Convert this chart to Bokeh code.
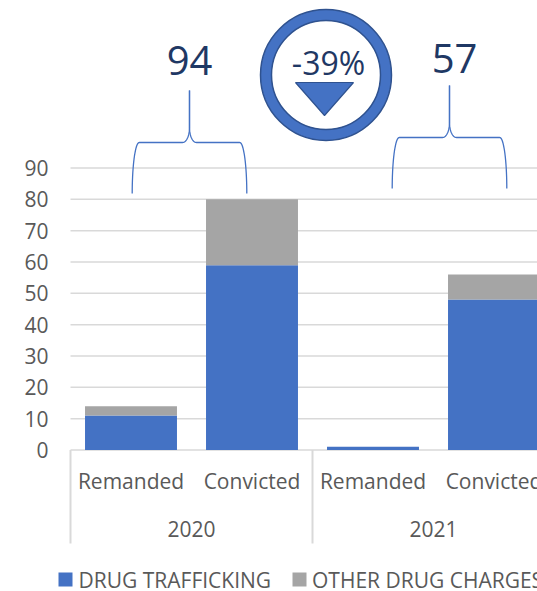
import numpy as np
from bokeh.plotting import figure
from bokeh.models import Range1d, ColumnDataSource
from bokeh.embed import file_html
from bokeh.resources import INLINE
from bokeh.core.properties import value

# ---------------- data ----------------
years = ["2020", "2021"]
stages = ["Remanded", "Convicted", "Remanded", "Convicted"]
category_year = ["2020", "2020", "2021", "2021"]
series_names = ["DRUG TRAFFICKING", "OTHER DRUG CHARGES"]
drug_trafficking = [11, 59, 1, 48]
other_drug_charges = [3, 21, 0, 8]
y_ticks = [0, 10, 20, 30, 40, 50, 60, 70, 80, 90]
y_tick_labels = [str(t) for t in y_ticks]

# ---------------- styles ----------------
BLUE = "#4472C4"
GRAY = "#A5A5A5"
TXT = "#595959"
NAVY = "#1F3864"
GRID = "#D9D9D9"
EDGE = "#2F528F"
FONT = value("Open Sans")

# picture-pixel -> data helpers (for annotation placement only)
X0, SLOT, Y0, PXU = 70.0, 121.0, 449.5, 282.0 / 90.0
def dx(px):
    return (px - X0) / SLOT
def dy(py):
    return (Y0 - py) / PXU

W, H = 537, 591
p = figure(width=W, height=H, output_backend="svg", toolbar_location=None,
           x_range=Range1d(dx(0), dx(W)), y_range=Range1d(dy(H), dy(0)),
           x_axis_location=None, y_axis_location=None, min_border=0,
           min_border_left=0, min_border_right=0, min_border_top=0, min_border_bottom=0)
p.outline_line_color = None
p.background_fill_color = "white"
p.border_fill_color = "white"
p.xgrid.visible = False
p.ygrid.visible = False

# ---------------- value axis (gridlines + labels) ----------------
n_t = len(y_ticks)
p.segment(x0=[0.0] * n_t, y0=y_ticks, x1=[dx(W + 5)] * n_t, y1=y_ticks,
          line_color=GRID, line_width=1.5)
p.text(x=[dx(48)] * n_t, y=y_ticks, text=y_tick_labels, text_font=FONT,
       text_font_size="21px", text_color=TXT, text_align="right", text_baseline="middle")

# ---------------- bars ----------------
xs = [i + 0.5 for i in range(len(stages))]
src = ColumnDataSource(dict(x=xs, drug=drug_trafficking, other=other_drug_charges))
p.vbar_stack(["drug", "other"], x="x", width=0.76, color=[BLUE, GRAY],
             line_color=None, source=src)

# ---------------- category axis ----------------
sep_x = [0.0, 2.0]
p.segment(x0=sep_x, y0=[0, 0], x1=sep_x, y1=[dy(543)] * 2, line_color=GRID, line_width=2)
p.text(x=xs, y=[dy(480)] * 4, text=stages, text_font=FONT, text_font_size="21px",
       text_color=TXT, text_align="center", text_baseline="middle")
year_x = [1.0, 3.0]
p.text(x=year_x, y=[dy(528)] * 2, text=years, text_font=FONT, text_font_size="21px",
       text_color=TXT, text_align="center", text_baseline="middle")

# ---------------- legend ----------------
p.scatter(x=[dx(65), dx(299)], y=[dy(579)] * 2, marker="square", size=14,
          fill_color=[BLUE, GRAY], line_color=None)
p.text(x=[dx(78), dx(311.5)], y=[dy(579)] * 2, text=series_names, text_font=FONT,
       text_font_size="21px", text_color=TXT, text_align="left", text_baseline="middle")

# ---------------- braces ----------------
def brace(xl, xr, xc, yb, yh, yt, rx=7.0, cy=15.0):
    t = np.linspace(0, np.pi / 2, 20)
    ry = yb - yh
    lx = xl + rx - rx * np.cos(t)
    ly = yb - ry * np.sin(t)
    cx1 = xc - rx + rx * np.sin(t)
    cy1 = yh - cy + cy * np.cos(t)
    px = list(lx) + list(cx1) + [xc]
    py = list(ly) + list(cy1) + [yt]
    rpx = [2 * xc - v for v in px]
    return [dx(v) for v in px], [dy(v) for v in py], [dx(v) for v in rpx], [dy(v) for v in py]

braces = [(131.7, 246.7, 189.0, 193.0, 142.0, 90.0),
          (391.7, 506.7, 449.0, 188.0, 137.0, 85.0)]
mx, my = [], []
for b in braces:
    a, bb, c, d = brace(*b)
    mx += [a, c]
    my += [bb, d]
p.multi_line(xs=mx, ys=my, line_color=BLUE, line_width=1.3)

# ---------------- totals and change ----------------
totals = [sum(drug_trafficking[i] + other_drug_charges[i] for i in range(4) if category_year[i] == y)
          for y in years]
change = (totals[1] - totals[0]) / totals[0] * 100
p.text(x=[dx(189), dx(454)], y=[dy(60), dy(58)], text=[str(t) for t in totals],
       text_font=FONT, text_font_size="40px", text_color=NAVY,
       text_align="center", text_baseline="middle")

p.scatter(x=[dx(325.5)], y=[dy(74.5)], marker="circle", size=131,
          fill_color=BLUE, line_color=EDGE, line_width=1.5)
p.scatter(x=[dx(325.5)], y=[dy(74.5)], marker="circle", size=109,
          fill_color="white", line_color=EDGE, line_width=1.5)
p.patch(x=[dx(295), dx(353), dx(324)], y=[dy(82), dy(82), dy(115)],
        fill_color=BLUE, line_color=EDGE, line_width=1.2)
p.text(x=[dx(328)], y=[dy(62)], text=["%d%%" % round(change)],
       text_font=FONT, text_font_size="32px", text_color=NAVY,
       text_align="center", text_baseline="middle")

open("out.html", "w").write(file_html(p, INLINE))
